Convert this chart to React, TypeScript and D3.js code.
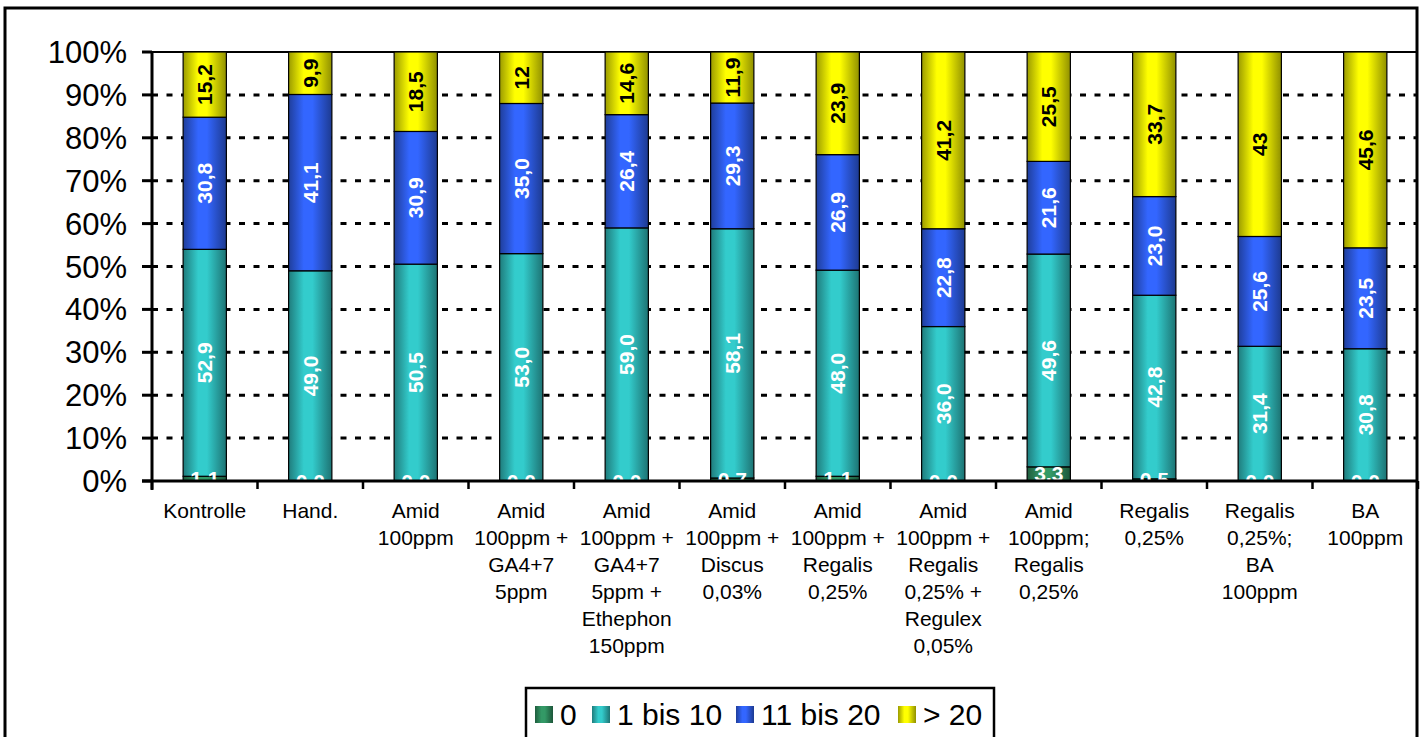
import React from 'react';
import * as d3 from 'd3';

const categories: string[][] = [
  ['Kontrolle'],
  ['Hand.'],
  ['Amid', '100ppm'],
  ['Amid', '100ppm +', 'GA4+7', '5ppm'],
  ['Amid', '100ppm +', 'GA4+7', '5ppm +', 'Ethephon', '150ppm'],
  ['Amid', '100ppm +', 'Discus', '0,03%'],
  ['Amid', '100ppm +', 'Regalis', '0,25%'],
  ['Amid', '100ppm +', 'Regalis', '0,25% +', 'Regulex', '0,05%'],
  ['Amid', '100ppm;', 'Regalis', '0,25%'],
  ['Regalis', '0,25%'],
  ['Regalis', '0,25%;', 'BA', '100ppm'],
  ['BA', '100ppm'],
];

const seriesNames = ['0', '1 bis 10', '11 bis 20', '> 20'];
const s0 = [1.1, 0.0, 0.0, 0.0, 0.0, 0.7, 1.1, 0.0, 3.3, 0.5, 0.0, 0.0];
const s1 = [52.9, 49.0, 50.5, 53.0, 59.0, 58.1, 48.0, 36.0, 49.6, 42.8, 31.4, 30.8];
const s2 = [30.8, 41.1, 30.9, 35.0, 26.4, 29.3, 26.9, 22.8, 21.6, 23.0, 25.6, 23.5];
const s3 = [15.2, 9.9, 18.5, 12, 14.6, 11.9, 23.9, 41.2, 25.5, 33.7, 43, 45.6];
const yTicks = [0, 0.1, 0.2, 0.3, 0.4, 0.5, 0.6, 0.7, 0.8, 0.9, 1.0];

const seriesColors = ['#339966', '#33CCCC', '#3366FF', '#FFFF00'];
const labelColors = ['#FFFFFF', '#FFFFFF', '#FFFFFF', '#000000'];

const allSeries = [s0, s1, s2, s3];

function fmt(si: number, v: number): string {
  if (si === 3) return String(v).replace('.', ',');
  return v.toFixed(1).replace('.', ',');
}

export default function App() {
  const W = 1424;
  const H = 737;
  const left = 152;
  const right = 1418;
  const top = 52;
  const bottom = 481;
  const font = 'Liberation Sans, Arial, sans-serif';

  const table = categories.map((c, i) => {
    const row: any = { idx: i };
    seriesNames.forEach((k, si) => (row[k] = allSeries[si][i]));
    return row;
  });

  const stacked = d3
    .stack<any>()
    .keys(seriesNames)
    .offset(d3.stackOffsetExpand)(table);

  const x = d3
    .scaleBand<number>()
    .domain(categories.map((_, i) => i))
    .range([left, right])
    .paddingInner(0.59)
    .paddingOuter(0.295);
  const step = x.step();
  const y = d3.scaleLinear().domain([0, 1]).range([bottom, top]);

  const legendX = [535, 592, 736, 898];

  return (
    <svg
      width={W}
      height={H}
      style={{ position: 'absolute', left: 0, top: 0, background: '#fff' }}
      fontFamily={font}
    >
      <defs>
        {seriesColors.map((c, i) => {
          const col = d3.color(c)!;
          const dark = d3.rgb(col).darker(1.4).toString();
          const darker = d3.rgb(col).darker(1.6).toString();
          return (
            <linearGradient key={i} id={`g${i}`} x1="0" x2="1" y1="0" y2="0">
              <stop offset="0%" stopColor={dark} />
              <stop offset="35%" stopColor={c} />
              <stop offset="55%" stopColor={c} />
              <stop offset="100%" stopColor={darker} />
            </linearGradient>
          );
        })}
      </defs>
      <rect x={0} y={0} width={W} height={H} fill="#fff" />
      {/* outer border */}
      <rect x={5} y={8} width={1412} height={745} fill="none" stroke="#000" strokeWidth={3} />

      {/* gridlines */}
      {yTicks.slice(1).map((t) => (
        <line
          key={t}
          x1={left}
          x2={right}
          y1={y(t)}
          y2={y(t)}
          stroke="#000"
          strokeWidth={t === 1 ? 2 : 3}
          strokeDasharray={t === 1 ? undefined : '6,8.5'}
        />
      ))}

      {/* bars */}
      {stacked.map((layer, si) =>
        layer.map((d, i) => {
          const x0 = x(i)!;
          const bw = x.bandwidth();
          const y0 = y(d[0]);
          const y1 = y(d[1]);
          const h = y0 - y1;
          return (
            <rect
              key={`${si}-${i}`}
              x={x0}
              y={y1}
              width={bw}
              height={Math.max(h, 0)}
              fill={`url(#g${si})`}
              stroke="#000"
              strokeWidth={h > 0 ? 1.2 : 0}
            />
          );
        })
      )}

      {/* data labels */}
      {stacked.map((layer, si) =>
        layer.map((d, i) => {
          const cx = x(i)! + x.bandwidth() / 2;
          const cy = (y(d[0]) + y(d[1])) / 2;
          const txt = fmt(si, allSeries[si][i]);
          if (si === 0) {
            return (
              <text
                key={`l${si}-${i}`}
                x={cx}
                y={cy}
                textAnchor="middle"
                dominantBaseline="central"
                fontSize={21}
                fontWeight="bold"
                fill={labelColors[si]}
              >
                {txt}
              </text>
            );
          }
          return (
            <text
              key={`l${si}-${i}`}
              transform={`translate(${cx},${cy}) rotate(-90)`}
              textAnchor="middle"
              dominantBaseline="central"
              fontSize={21}
              fontWeight="bold"
              fill={labelColors[si]}
            >
              {txt}
            </text>
          );
        })
      )}

      {/* axes */}
      <line x1={left} x2={left} y1={top} y2={bottom + 9} stroke="#000" strokeWidth={3} />
      <line x1={left - 10} x2={right} y1={bottom} y2={bottom} stroke="#000" strokeWidth={3} />
      {yTicks.map((t) => (
        <g key={`yt${t}`}>
          <line x1={left - 10} x2={left} y1={y(t)} y2={y(t)} stroke="#000" strokeWidth={3} />
          <text x={127} y={y(t) + 11} textAnchor="end" fontSize={31} fill="#000">
            {`${Math.round(t * 100)}%`}
          </text>
        </g>
      ))}
      {d3.range(categories.length + 1).map((i) => (
        <line
          key={`xt${i}`}
          x1={left + i * step}
          x2={left + i * step}
          y1={bottom}
          y2={bottom + 8}
          stroke="#000"
          strokeWidth={2.5}
        />
      ))}
      {categories.map((lines, i) => (
        <text
          key={`xl${i}`}
          x={x(i)! + x.bandwidth() / 2}
          y={518}
          textAnchor="middle"
          fontSize={21}
          fill="#000"
        >
          {lines.map((ln, j) => (
            <tspan key={j} x={x(i)! + x.bandwidth() / 2} y={518 + j * 27}>
              {ln}
            </tspan>
          ))}
        </text>
      ))}

      {/* legend */}
      <rect x={526} y={688} width={468} height={60} fill="#fff" stroke="#000" strokeWidth={2.5} />
      {seriesNames.map((n, i) => (
        <g key={`lg${i}`}>
          <rect x={legendX[i]} y={706} width={18} height={17} fill={`url(#g${i})`} />
          <text x={legendX[i] + 25} y={725} fontSize={30} fill="#000">
            {n}
          </text>
        </g>
      ))}
    </svg>
  );
}
